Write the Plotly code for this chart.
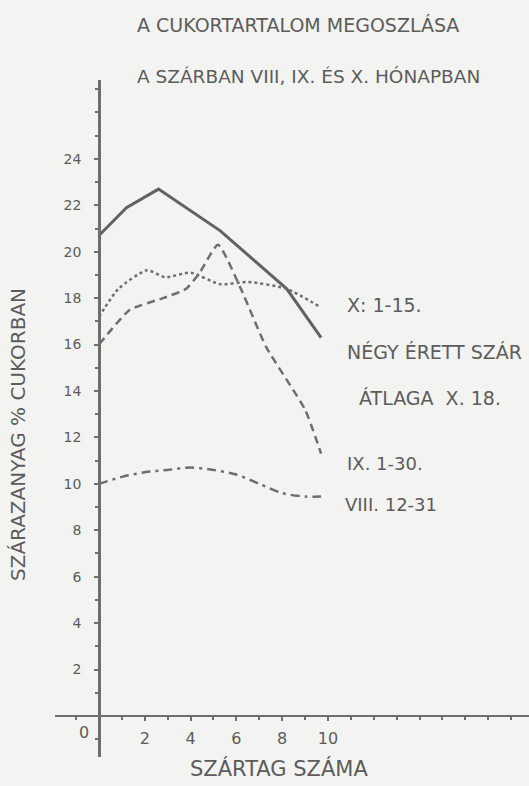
import plotly.graph_objects as go

# ---- data ----
x_solid = [0, 1.2, 2.6, 5.3, 8.2, 9.7]
y_solid = [20.7, 21.9, 22.7, 20.9, 18.4, 16.3]          # NÉGY ÉRETT SZÁR ÁTLAGA X.18.

x_oct = [0, 0.85, 2.1, 2.9, 4.0, 5.3, 6.5, 8.2, 9.7]
y_oct = [17.2, 18.4, 19.2, 18.9, 19.1, 18.6, 18.7, 18.4, 17.6]   # X. 1-15.

x_sep = [0, 1.35, 2.8, 3.8, 4.4, 5.2, 6.2, 7.3, 9.0, 9.7]
y_sep = [16.0, 17.5, 18.0, 18.4, 19.1, 20.3, 18.4, 15.9, 13.2, 11.3]  # IX. 1-30.

x_aug = [0, 1, 2, 3, 4, 5, 6, 7, 8, 9, 9.7]
y_aug = [10.0, 10.3, 10.5, 10.6, 10.7, 10.6, 10.4, 10.0, 9.6, 9.45, 9.45]  # VIII. 12-31

x_ticks = [0, 2, 4, 6, 8, 10]
y_ticks = [2, 4, 6, 8, 10, 12, 14, 16, 18, 20, 22, 24]

title_lines = ["A CUKORTARTALOM MEGOSZLÁSA", "A SZÁRBAN VIII, IX. ÉS X. HÓNAPBAN"]
x_title = "SZÁRTAG SZÁMA"
y_title = "SZÁRAZANYAG % CUKORBAN"
labels = ["X: 1-15.", "NÉGY ÉRETT SZÁR", "ÁTLAGA  X. 18.", "IX. 1-30.", "VIII. 12-31"]

INK = "#6e6e6e"
TXT = "#5c5c5c"
FONT = "DejaVu Sans"

fig = go.Figure()
fig.add_trace(go.Scatter(x=x_solid, y=y_solid, mode="lines",
                         line=dict(color="#626262", width=3)))
fig.add_trace(go.Scatter(x=x_oct, y=y_oct, mode="lines",
                         line=dict(color=INK, width=2.5, dash="3px,3px", shape="spline", smoothing=0.6)))
fig.add_trace(go.Scatter(x=x_sep, y=y_sep, mode="lines",
                         line=dict(color=INK, width=2.5, dash="8px,5px", shape="spline", smoothing=0.5)))
fig.add_trace(go.Scatter(x=x_aug, y=y_aug, mode="lines",
                         line=dict(color=INK, width=2.5, dash="9px,5px,3px,5px", shape="spline", smoothing=0.8)))

L, R, T, B = 55, 0, 80, 29
W, H = 529 - L - R, 786 - T - B

def pix(px, py):
    return (px - L) / W, ((786 - py) - B) / H

ann = []
for txt, px, py, size in [(title_lines[0], 135, 25, 19), (title_lines[1], 135, 77, 18.5),
                          (labels[0], 345, 305, 19), (labels[1], 345, 352, 19),
                          (labels[2], 357, 398, 19), (labels[3], 345, 463, 18),
                          (labels[4], 343, 505, 18)]:
    fx, fy = pix(px, py)
    ann.append(dict(x=fx, y=fy, xref="paper", yref="paper", xanchor="left", yanchor="middle",
                    showarrow=False, text=txt, font=dict(family=FONT, size=size, color=TXT)))
fx, fy = pix(279, 768)
ann.append(dict(x=fx, y=fy, xref="paper", yref="paper", xanchor="center", yanchor="middle",
                showarrow=False, text=x_title, font=dict(family=FONT, size=21, color=TXT)))
fx, fy = pix(18, 435)
ann.append(dict(x=fx, y=fy, xref="paper", yref="paper", xanchor="center", yanchor="middle",
                showarrow=False, text=y_title, textangle=-90,
                font=dict(family=FONT, size=20, color=TXT)))
# "0" tick label sits left of the vertical axis
ann.append(dict(x=x_ticks[0], y=0, xref="x", yref="y", xanchor="right", yanchor="top",
                xshift=-8, yshift=-5, showarrow=False, text=str(x_ticks[0]),
                font=dict(family=FONT, size=16, color=TXT)))

xr = [-1.92, 18.78]
yr = [-1.77, 27.4]
fig.update_layout(
    width=529, height=786,
    margin=dict(l=L, r=R, t=T, b=B),
    paper_bgcolor="#f3f3f1", plot_bgcolor="#f3f3f1",
    showlegend=False,
    annotations=ann,
    xaxis=dict(range=xr, showgrid=False, zeroline=False, showline=True, linecolor=INK, linewidth=2,
               anchor="free", position=(0 - yr[0]) / (yr[1] - yr[0]),
               tickvals=x_ticks[1:], ticktext=[str(v) for v in x_ticks[1:]],
               ticks="outside", ticklen=4, tickcolor=INK, tickwidth=1.5,
               ticklabelstandoff=4,
               tickfont=dict(family=FONT, size=16, color=TXT),
               minor=dict(dtick=1, ticks="outside", ticklen=3, tickcolor=INK)),
    yaxis=dict(range=yr, showgrid=False, zeroline=False, showline=True, linecolor=INK, linewidth=2.5,
               anchor="free", position=(0 - xr[0]) / (xr[1] - xr[0]),
               tickvals=y_ticks, ticktext=[str(v) for v in y_ticks],
               ticks="outside", ticklen=4, tickcolor=INK, tickwidth=1.5,
               ticklabelstandoff=10,
               tickfont=dict(family=FONT, size=14, color=TXT),
               minor=dict(dtick=1, ticks="outside", ticklen=3, tickcolor=INK)),
)

fig.write_html("out.html", config={"displayModeBar": False},
               post_script="document.body.style.margin='0';document.body.style.background='#f3f3f1';")
